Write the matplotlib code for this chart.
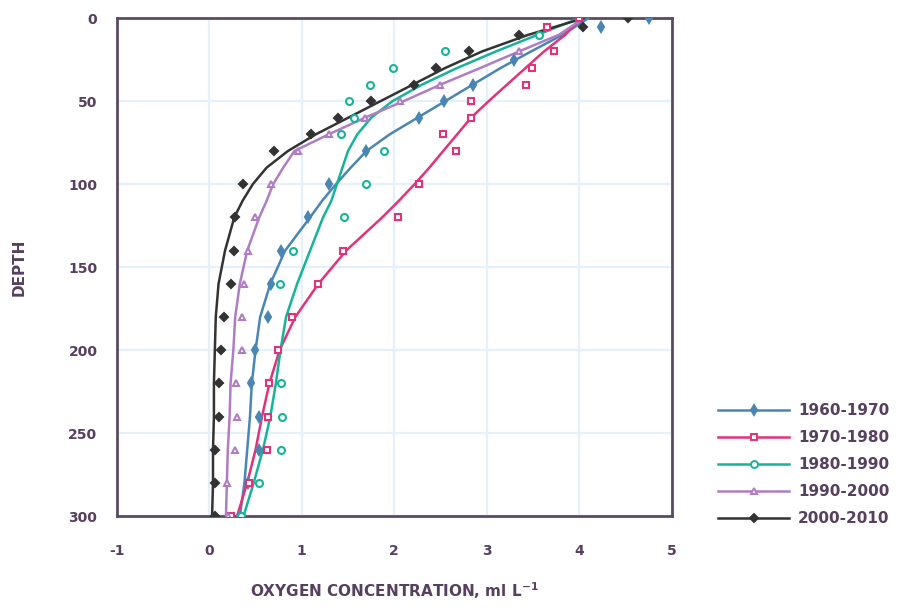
import matplotlib
matplotlib.use("Agg")
import matplotlib.pyplot as plt
from matplotlib.lines import Line2D

# Perfis de oxigênio por década
decadas = ["1960-1970", "1970-1980", "1980-1990", "1990-2000", "2000-2010"]

# curvas ajustadas (profundidade comum)
prof_curva = [0, 10, 20, 30, 40, 50, 60, 70, 80, 90, 100, 110, 120, 140, 160,
              180, 200, 220, 240, 260, 280, 300]
curva_1960 = [4.10, 3.82, 3.48, 3.15, 2.85, 2.55, 2.25, 1.95, 1.70, 1.53, 1.37,
              1.22, 1.09, 0.82, 0.66, 0.55, 0.50, 0.46, 0.44, 0.41, 0.38, 0.33]
curva_1970 = [4.02, 3.85, 3.62, 3.42, 3.22, 3.02, 2.83, 2.68, 2.53, 2.38, 2.22,
              2.05, 1.87, 1.48, 1.18, 0.93, 0.76, 0.65, 0.57, 0.50, 0.41, 0.30]
curva_1980 = [4.00, 3.55, 3.10, 2.68, 2.30, 1.98, 1.75, 1.60, 1.50, 1.44, 1.38,
              1.32, 1.23, 1.09, 0.95, 0.83, 0.77, 0.72, 0.66, 0.58, 0.48, 0.37]
curva_1990 = [4.05, 3.78, 3.35, 2.93, 2.50, 2.10, 1.68, 1.29, 0.92, 0.80, 0.69,
              0.62, 0.54, 0.41, 0.33, 0.28, 0.26, 0.23, 0.22, 0.20, 0.19, 0.18]
curva_2000 = [4.05, 3.45, 2.95, 2.55, 2.20, 1.85, 1.50, 1.15, 0.85, 0.62, 0.47,
              0.36, 0.27, 0.17, 0.10, 0.07, 0.06, 0.05, 0.05, 0.04, 0.04, 0.03]

# observações
prof_1960 = [0, 5, 25, 40, 50, 60, 80, 100, 120, 140, 160, 180, 200, 220, 240, 260, 280, 300]
obs_1960 = [4.76, 4.24, 3.30, 2.85, 2.54, 2.27, 1.70, 1.30, 1.07, 0.78, 0.67, 0.64,
            0.49, 0.45, 0.54, 0.54, 0.42, 0.33]
prof_1970 = [0, 5, 20, 30, 40, 50, 60, 70, 80, 100, 120, 140, 160, 180, 200, 220, 240, 260, 280, 300]
obs_1970 = [4.00, 3.65, 3.73, 3.49, 3.43, 2.83, 2.83, 2.53, 2.67, 2.27, 2.04, 1.45,
            1.18, 0.89, 0.74, 0.65, 0.64, 0.62, 0.43, 0.24]
prof_1980 = [10, 20, 30, 40, 50, 60, 70, 80, 100, 120, 140, 160, 220, 240, 260, 280, 300]
obs_1980 = [3.57, 2.55, 1.99, 1.74, 1.51, 1.56, 1.42, 1.89, 1.70, 1.46, 0.91, 0.77,
            0.78, 0.79, 0.78, 0.54, 0.34]
prof_1990 = [20, 40, 50, 60, 70, 80, 100, 120, 140, 160, 180, 200, 220, 240, 260, 280, 300]
obs_1990 = [3.35, 2.49, 2.06, 1.68, 1.29, 0.96, 0.67, 0.49, 0.42, 0.37, 0.35, 0.35,
            0.29, 0.30, 0.28, 0.19, 0.20]
prof_2000 = [0, 5, 10, 20, 30, 40, 50, 60, 70, 80, 100, 120, 140, 160, 180, 200, 220,
             240, 260, 280, 300]
obs_2000 = [4.53, 4.04, 3.35, 2.81, 2.45, 2.21, 1.75, 1.39, 1.10, 0.70, 0.36, 0.28,
            0.27, 0.24, 0.16, 0.13, 0.10, 0.10, 0.06, 0.06, 0.06]

cores = ["#4a86b4", "#e0337b", "#16b39b", "#b07cc4", "#333333"]
marcadores = [("d", True), ("s", False), ("o", False), ("^", False), ("D", True)]
tamanhos = [5, 5, 5, 5, 4.5]
curvas = [curva_1960, curva_1970, curva_1980, curva_1990, curva_2000]
profs = [prof_1960, prof_1970, prof_1980, prof_1990, prof_2000]
obs = [obs_1960, obs_1970, obs_1980, obs_1990, obs_2000]

texto = "#573f60"
plt.rcParams["font.family"] = ["DejaVu Sans"]
plt.rcParams["font.weight"] = "bold"
plt.rcParams["axes.unicode_minus"] = False

fig = plt.figure(figsize=(9.2, 6.08), dpi=100)
ax = fig.add_axes([0.127, 0.151, 0.603, 0.819])

handles = []
for cor, (mk, cheio), ms, curva, p, o, nome in zip(cores, marcadores, tamanhos, curvas,
                                                   profs, obs, decadas):
    ax.plot(curva, prof_curva, color=cor, lw=1.8, zorder=3)
    face = cor if cheio else "white"
    ax.plot(o, p, linestyle="none", marker=mk, markersize=ms, markerfacecolor=face,
            markeredgecolor=cor, markeredgewidth=1.5, zorder=4)
    handles.append(Line2D([0], [0], color=cor, lw=1.8, marker=mk, markersize=ms,
                          markerfacecolor=face, markeredgecolor=cor, markeredgewidth=1.4,
                          label=nome))

ax.set_xlim(-1, 5)
ax.set_ylim(300, 0)
ax.set_xticks(range(-1, 6))
ax.set_yticks(range(0, 301, 50))
ax.grid(True, color="#e4f1fa", lw=1.6)
ax.set_axisbelow(True)
ax.tick_params(length=0, labelsize=10, labelcolor=texto)
ax.tick_params(axis="x", pad=20)
ax.tick_params(axis="y", pad=14)
for s in ax.spines.values():
    s.set_color("#5b4a66")
    s.set_linewidth(2)

ax.set_xlabel("OXYGEN CONCENTRATION, ml L$^{\\mathbf{-1}}$", fontsize=11,
              color=texto, fontweight="bold", labelpad=16)
ax.set_ylabel("DEPTH", fontsize=11, color=texto, fontweight="bold", labelpad=30)

leg = fig.legend(handles=handles, loc="lower left", bbox_to_anchor=(0.766, 0.112),
                 frameon=False, handlelength=4.6, labelspacing=0.78, fontsize=11,
                 handletextpad=0.6)
for t in leg.get_texts():
    t.set_color(texto)
    t.set_fontweight("bold")

fig.savefig("out.png", dpi=100)
